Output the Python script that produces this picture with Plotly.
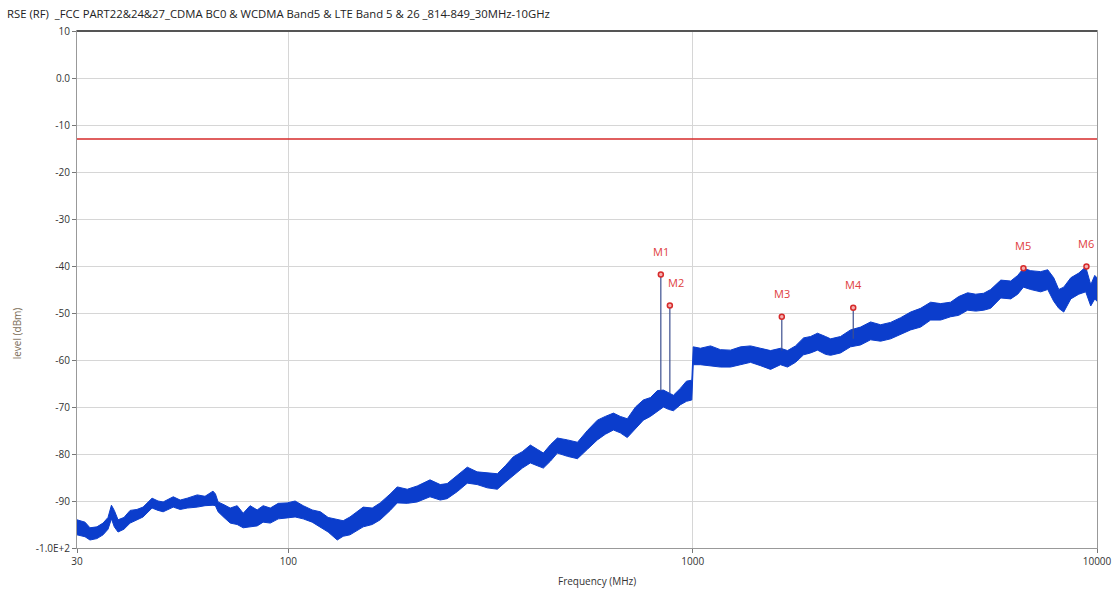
import math
import plotly.graph_objects as go

TITLE = "RSE (RF)  _FCC PART22&24&27_CDMA BC0 & WCDMA Band5 & LTE Band 5 & 26 _814-849_30MHz-10GHz"

# trace envelope: frequency (MHz), upper and lower level (dBm)
FREQ_MHZ = [
    30, 31.4, 32.3, 33.6, 34.8, 35.8, 36.5, 37.1, 37.9, 39.2, 40.6, 42.2, 43.7, 46.0,
    47.6, 49.0, 51.9, 54.0, 56.2, 59.5, 62.2, 65.1, 66.0, 67.0, 69.3, 71.8, 74.7, 77.3,
    80.4, 83.7, 86.6, 90.2, 94.4, 99.3, 103.9, 108.8, 114.5, 120, 125.4, 132.1, 136.6,
    142, 153.1, 161.2, 168.7, 178.6, 185.9, 196.8, 208.3, 224, 237.4, 247, 261.7, 277,
    293, 310.4, 328.7, 344, 360, 379, 396.7, 412.7, 427.2, 445, 462.7, 490, 518.8, 549,
    581, 608, 636.7, 662, 689, 722, 755, 786, 818, 846.6, 871, 896, 933, 965, 995,
    1003, 1045, 1107, 1171, 1240, 1313, 1390, 1471, 1558, 1649, 1716, 1796, 1880, 1957,
    2036, 2131, 2193, 2321, 2457, 2601, 2754, 2916, 3087, 3268, 3459, 3662, 3877, 4104,
    4344, 4548, 4787, 5012, 5247, 5457, 5782, 6118, 6367, 6577, 6856, 7257, 7553, 7816,
    8044, 8274, 8614, 9015, 9378, 9651, 9873, 10000,
]
LEVEL_HI = [
    -94.0, -94.5, -95.7, -95.5, -94.7, -93.5, -90.9, -92.0, -94.0, -93.5, -92.0, -91.8, -91.3, -89.4,
    -90.0, -90.2, -89.1, -89.8, -89.4, -88.7, -89.0, -87.9, -88.5, -90.2, -90.8, -91.5, -91.0, -92.6,
    -91.0, -91.9, -91.0, -91.5, -90.5, -90.4, -90.0, -91.0, -91.9, -92.3, -93.5, -94.0, -94.2,
    -93.4, -91.3, -91.5, -90.4, -88.5, -87.0, -87.5, -86.8, -85.5, -86.5, -86.3, -84.5, -82.8,
    -83.8, -84.0, -84.2, -82.5, -80.6, -79.5, -78.1, -79.0, -79.8, -78.0, -76.6, -77.0, -77.5, -75.0,
    -72.8, -72.0, -71.3, -72.0, -72.5, -70.0, -68.5, -68.0, -66.5, -66.4, -67.0, -67.5, -66.0, -64.5, -64.3,
    -57.2, -57.5, -57.0, -57.8, -57.9, -57.2, -57.0, -57.5, -58.0, -57.5, -58.0, -57.0, -55.3, -55.0,
    -54.3, -55.0, -55.5, -55.0, -53.6, -53.0, -51.9, -52.5, -52.0, -51.0, -49.8, -49.0, -47.7, -48.0,
    -47.7, -46.5, -45.7, -46.0, -45.8, -45.0, -43.0, -43.2, -42.0, -40.5, -41.0, -41.2, -40.8, -42.5,
    -45.0, -44.5, -42.5, -41.5, -40.2, -44.0, -42.0, -42.5,
]
LEVEL_LO = [
    -97.2, -97.6, -98.3, -98.0, -97.2, -96.0, -93.8, -95.5, -96.6, -96.0, -94.7, -94.0, -93.4, -91.5,
    -92.0, -92.3, -91.3, -91.8, -91.5, -91.3, -91.0, -90.9, -91.0, -92.3, -93.5, -94.7, -95.0, -95.7,
    -95.5, -95.3, -94.5, -94.7, -93.8, -93.6, -93.4, -93.8, -94.5, -95.5, -96.6, -98.3, -97.5,
    -97.2, -95.5, -95.0, -94.0, -92.0, -90.4, -90.5, -90.2, -89.1, -89.8, -89.5, -88.0, -86.2,
    -86.5, -87.2, -87.5, -86.0, -84.5, -83.0, -81.9, -82.5, -83.0, -81.5, -79.8, -80.5, -81.0, -79.0,
    -77.0, -75.8, -74.9, -75.5, -76.5, -74.5, -72.8, -72.0, -71.0, -70.0, -70.5, -70.8, -69.5, -68.8, -68.5,
    -61.0, -61.0, -61.2, -61.5, -61.5, -61.0, -60.5, -61.2, -62.0, -61.0, -61.5, -60.5, -58.9, -58.5,
    -57.9, -58.8, -59.0, -58.5, -57.2, -56.8, -55.7, -56.0, -55.5, -54.5, -53.6, -53.0, -51.5, -51.5,
    -50.8, -50.5, -49.4, -49.6, -49.4, -49.0, -46.8, -47.0, -46.0, -44.5, -45.0, -45.5, -45.0, -47.5,
    -49.0, -49.8, -47.0, -46.0, -45.5, -48.5, -47.0, -47.5,
]

LIMIT_DBM = -13

MARKER_NAMES = ["M1", "M2", "M3", "M4", "M5", "M6"]
MARKER_FREQ = [834, 878, 1661, 2495, 6577, 9417]
MARKER_LEVEL = [-41.8, -48.4, -50.8, -48.9, -40.5, -40.1]
MARKER_BASE = [-66.5, -67.0, -58.0, -55.5, -41.0, -41.0]

Y_TICKS = [10, 0, -10, -20, -30, -40, -50, -60, -70, -80, -90, -100]
Y_TICK_TEXT = ["10", "0.0", "-10", "-20", "-30", "-40", "-50", "-60", "-70", "-80", "-90", "-1.0E+2"]
X_TICKS = [30, 100, 1000, 10000]

BLUE = "#0b3dcc"
RED = "#d62a2a"
FONT = "Open Sans"

fig = go.Figure()

# noise band as a filled envelope
fig.add_trace(go.Scatter(
    x=FREQ_MHZ + FREQ_MHZ[::-1],
    y=LEVEL_HI + LEVEL_LO[::-1],
    fill="toself", fillcolor=BLUE,
    line=dict(color=BLUE, width=1),
    mode="lines", hoverinfo="skip", showlegend=False,
))

# spikes under the markers
sx, sy = [], []
for f, lv, base in zip(MARKER_FREQ, MARKER_LEVEL, MARKER_BASE):
    sx += [f, f, None]
    sy += [lv, base, None]
fig.add_trace(go.Scatter(x=sx, y=sy, mode="lines",
                         line=dict(color="#3c4f8f", width=1.2),
                         hoverinfo="skip", showlegend=False))

# limit line
fig.add_trace(go.Scatter(x=[X_TICKS[0], X_TICKS[-1]], y=[LIMIT_DBM, LIMIT_DBM],
                         mode="lines", line=dict(color=RED, width=1.5),
                         hoverinfo="skip", showlegend=False))

fig.add_trace(go.Scatter(
    x=MARKER_FREQ, y=MARKER_LEVEL, mode="markers",
    marker=dict(size=5, color="#f4b0b0", line=dict(color=RED, width=1.5)),
    showlegend=False,
))

for name, f, lv in zip(MARKER_NAMES, MARKER_FREQ, MARKER_LEVEL):
    dx = 6 if name == "M2" else 0
    fig.add_annotation(x=math.log10(f), y=lv, text=name, showarrow=False,
                       yshift=23, xshift=dx,
                       font=dict(family=FONT, size=11, color="#e04040"))

# axis titles sit a little off-centre in the original, so place them by hand
fig.add_annotation(xref="paper", yref="paper", x=-0.058, y=0.415, text="level (dBm)",
                   textangle=-90, showarrow=False, xanchor="center", yanchor="middle",
                   font=dict(family=FONT, size=10, color="#7d6e58"))
fig.add_annotation(xref="paper", yref="paper", x=0.51, y=-0.064, text="Frequency (MHz)",
                   showarrow=False, xanchor="center", yanchor="middle",
                   font=dict(family=FONT, size=10, color="#333333"))

fig.update_layout(
    width=1117, height=594,
    margin=dict(l=77, r=20, t=31, b=46, autoexpand=False),
    paper_bgcolor="white", plot_bgcolor="white",
    font=dict(family=FONT, size=10, color="#333333"),
    title=dict(text=TITLE, x=7 / 1117, xanchor="left", xref="container",
               y=1 - 14 / 594, yanchor="middle", pad=dict(l=0, r=0, t=0, b=0),
               font=dict(family=FONT, size=11.3, color="#222222")),
    xaxis=dict(
        type="log", range=[math.log10(30), 4], automargin=False,
        tickvals=X_TICKS, ticktext=[str(v) for v in X_TICKS],
        ticks="outside", ticklen=4, tickcolor="#777777",
        showgrid=True, gridcolor="#d6d6d6", gridwidth=1,
        showline=True, linecolor="#999999", mirror=True,
        zeroline=False,
    ),
    yaxis=dict(
        range=[-100, 10], automargin=False,
        tickvals=Y_TICKS, ticktext=Y_TICK_TEXT,
        ticks="outside", ticklen=4, tickcolor="#777777",
        showgrid=True, gridcolor="#d6d6d6", gridwidth=1,
        showline=True, linecolor="#999999", mirror=True,
        zeroline=False,
    ),
    shapes=[dict(type="line", xref="paper", yref="paper", x0=0, x1=1, y0=1, y1=1,
                 line=dict(color="#555555", width=2))],
)

# drop the browser's default body margin so the figure sits at the page corner
fig.write_html("out.html", config={"displayModeBar": False},
               post_script="document.body.style.margin='0';")
